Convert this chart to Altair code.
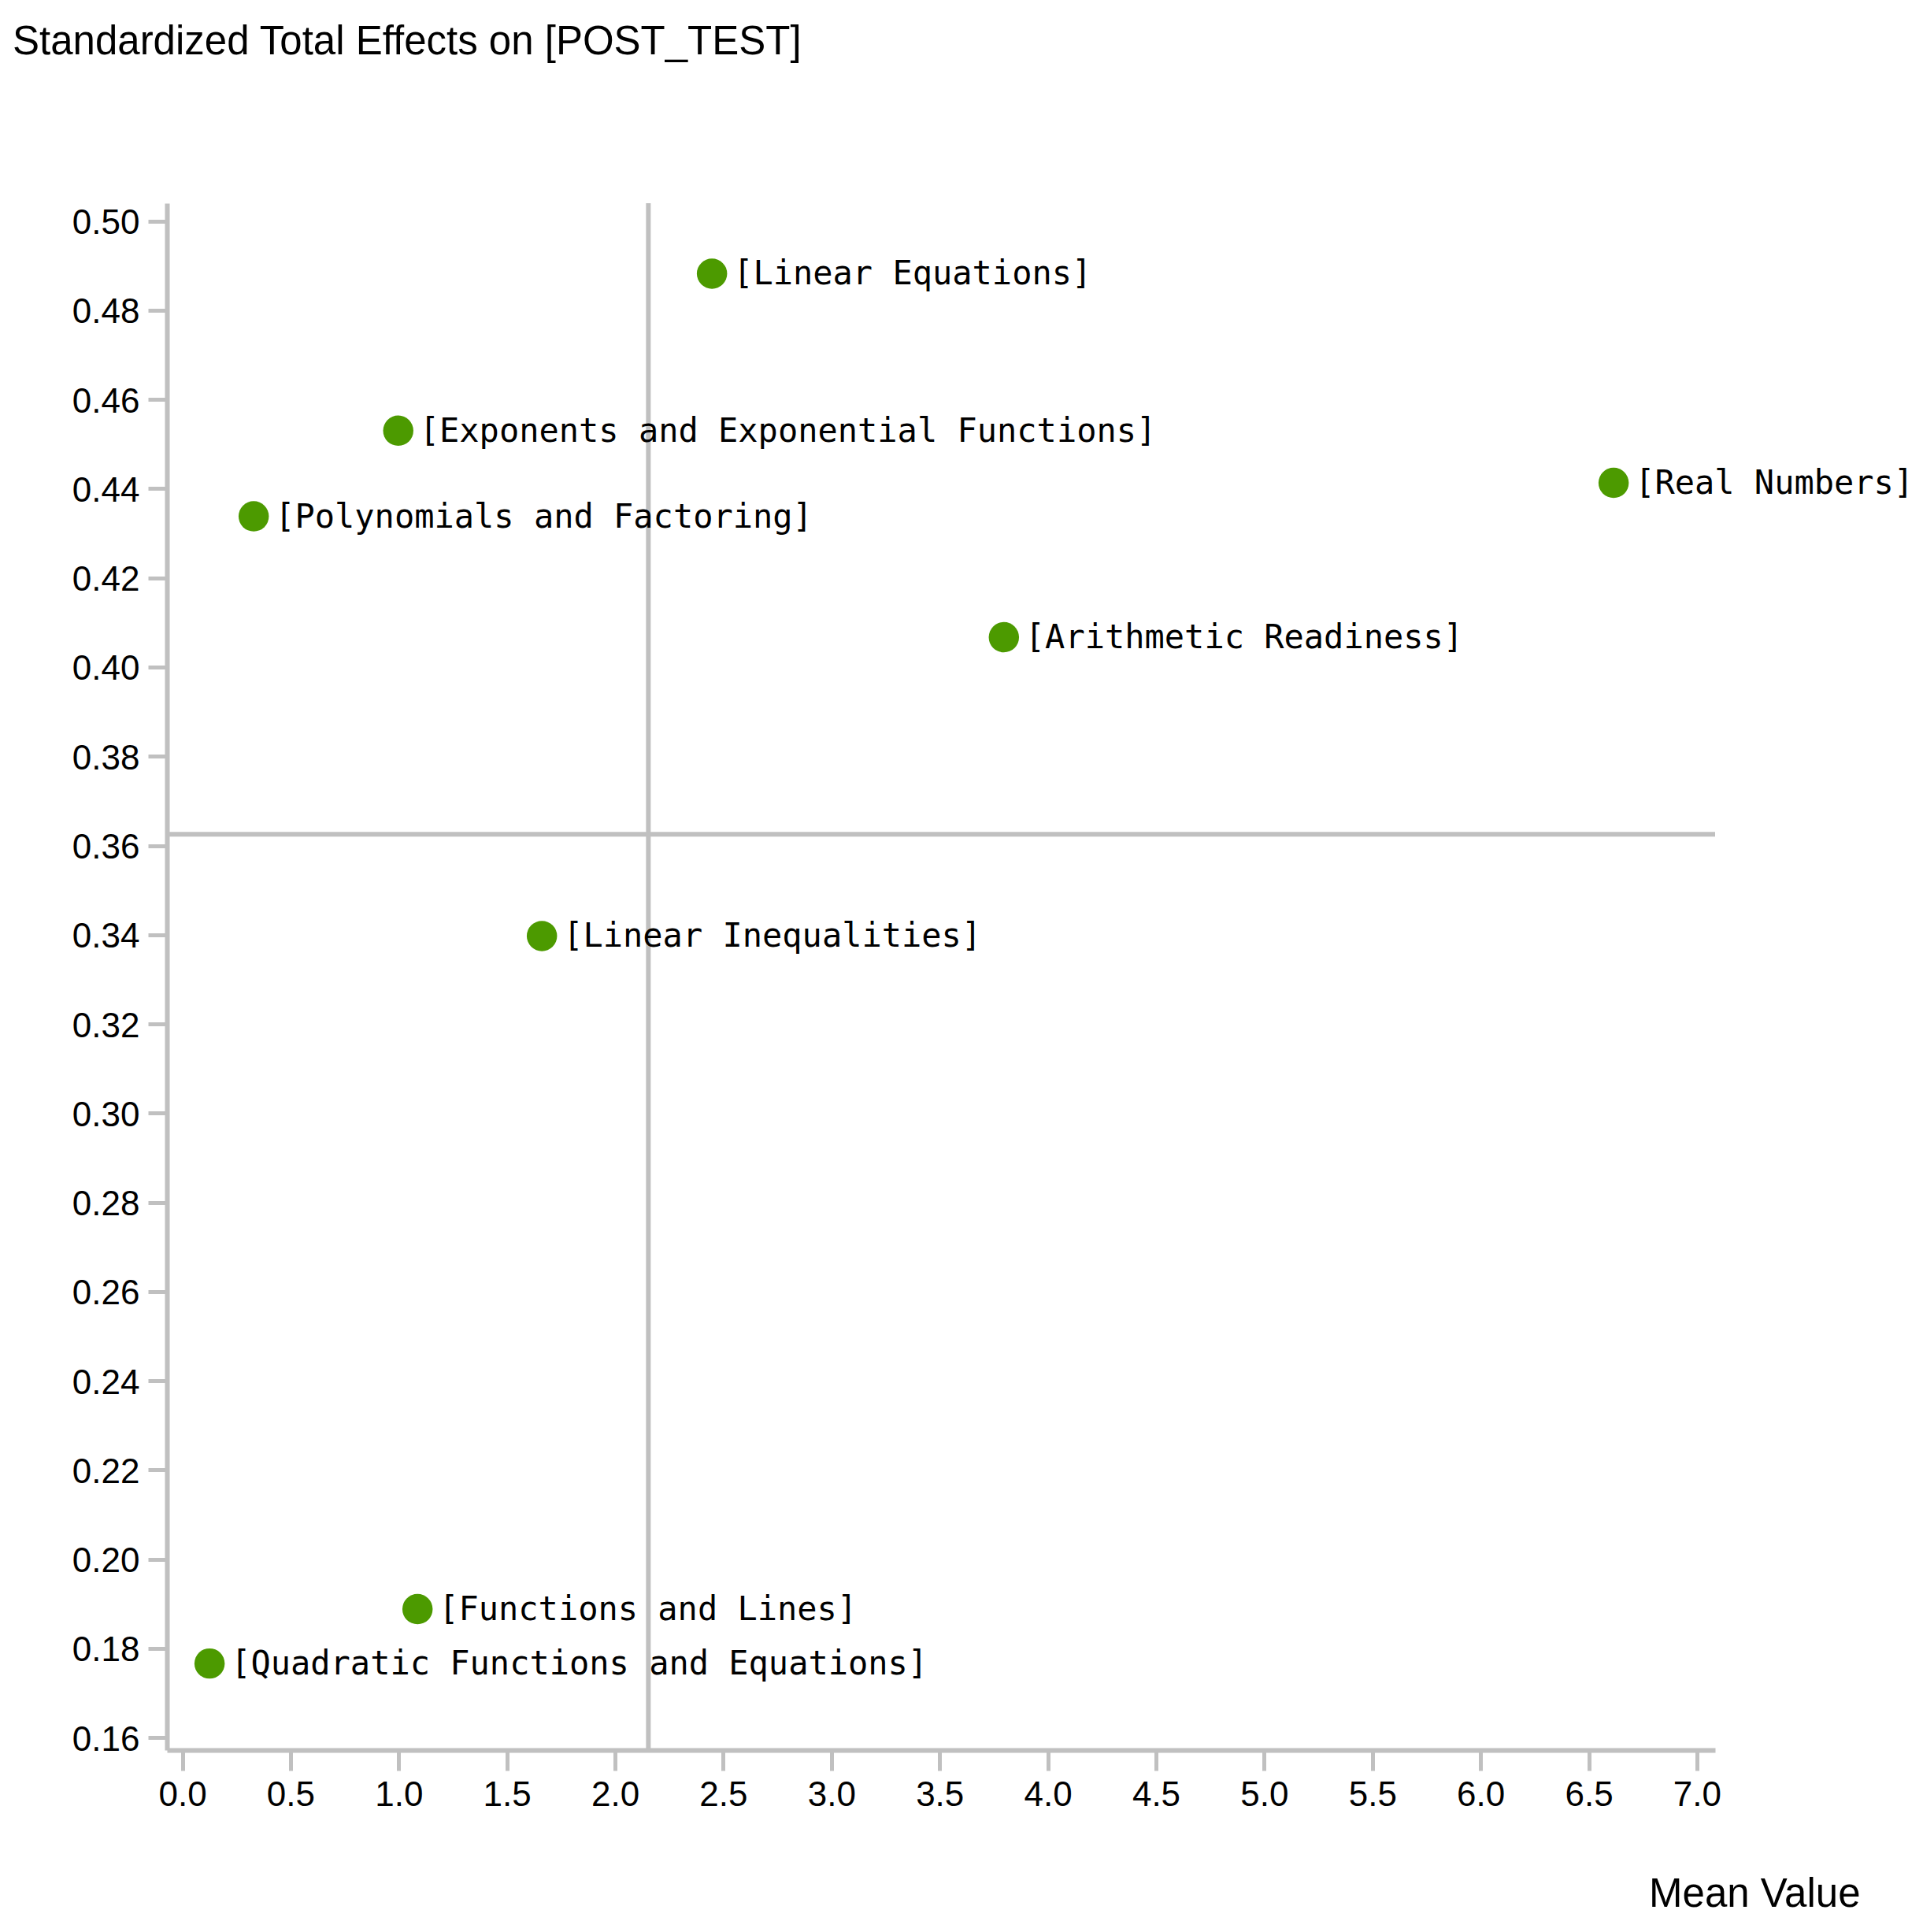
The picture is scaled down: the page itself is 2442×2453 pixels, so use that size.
import altair as alt
import pandas as pd

# Data
topics = [
    "[Linear Equations]",
    "[Exponents and Exponential Functions]",
    "[Polynomials and Factoring]",
    "[Real Numbers]",
    "[Arithmetic Readiness]",
    "[Linear Inequalities]",
    "[Functions and Lines]",
    "[Quadratic Functions and Equations]",
]
mean_value = [2.448, 0.998, 0.330, 6.615, 3.797, 1.662, 1.087, 0.126]
total_effect = [0.4882, 0.4530, 0.4338, 0.4413, 0.4067, 0.3397, 0.1888, 0.1766]

ref_x = [2.154]
ref_y = [0.3625]

y_ticks = [0.16, 0.18, 0.20, 0.22, 0.24, 0.26, 0.28, 0.30, 0.32, 0.34,
           0.36, 0.38, 0.40, 0.42, 0.44, 0.46, 0.48, 0.50]
x_ticks = [0.0, 0.5, 1.0, 1.5, 2.0, 2.5, 3.0, 3.5, 4.0, 4.5, 5.0, 5.5, 6.0, 6.5, 7.0]

df = pd.DataFrame({"topic": topics, "mean": mean_value, "effect": total_effect})
df_rx = pd.DataFrame({"rx": ref_x})
df_ry = pd.DataFrame({"ry": ref_y})

AXIS_GREY = "#c0c0c0"
SANS = "Liberation Sans"

x_scale = alt.Scale(domain=[-0.071, 7.084], nice=False, zero=False)
y_scale = alt.Scale(domain=[0.1572, 0.504], nice=False, zero=False)

x_enc = alt.X(
    "mean:Q",
    scale=x_scale,
    axis=alt.Axis(
        values=x_ticks,
        format=".1f",
        grid=False,
        domainColor=AXIS_GREY,
        domainWidth=6,
        tickColor=AXIS_GREY,
        tickWidth=5,
        tickSize=26,
        labelFont=SANS,
        labelFontSize=44,
        labelColor="#000000",
        labelPadding=9,
        labelFlush=False,
        title="Mean Value",
        titleFont=SANS,
        titleFontSize=51,
        titleFontWeight="normal",
        titleColor="#000000",
        titleAlign="right",
        titleBaseline="middle",
        titleX=2150,
        titleY=183,
    ),
)
y_enc = alt.Y(
    "effect:Q",
    scale=y_scale,
    axis=alt.Axis(
        values=y_ticks,
        format=".2f",
        grid=False,
        domainColor=AXIS_GREY,
        domainWidth=6,
        tickColor=AXIS_GREY,
        tickWidth=5,
        tickSize=24,
        labelFont=SANS,
        labelFontSize=44,
        labelColor="#000000",
        labelPadding=11,
        labelOffset=3,
        labelFlush=False,
        title="",
    ),
)

rule_v = alt.Chart(df_rx).mark_rule(color=AXIS_GREY, strokeWidth=6).encode(
    x=alt.X("rx:Q", scale=x_scale)
)
rule_h = alt.Chart(df_ry).mark_rule(color=AXIS_GREY, strokeWidth=6).encode(
    y=alt.Y("ry:Q", scale=y_scale)
)

base = alt.Chart(df)
points = base.mark_circle(color="#4c9a00", opacity=1, size=1480).encode(x=x_enc, y=y_enc)
labels = base.mark_text(
    align="left",
    baseline="middle",
    dx=27,
    dy=1,
    font="DejaVu Sans Mono",
    fontSize=42,
    color="#000000",
).encode(x="mean:Q", y="effect:Q", text="topic:N")

chart = (
    alt.layer(rule_v, rule_h, points, labels)
    .properties(
        width=1966,
        height=1964,
        autosize=alt.AutoSizeParams(type="none"),
        padding={"left": 204, "top": 250, "right": 256, "bottom": 215},
        view=alt.ViewBackground(stroke="transparent", strokeWidth=0, strokeOpacity=0),
        title=alt.TitleParams(
            text="Standardized Total Effects on [POST_TEST]",
            anchor="start",
            frame="group",
            font=SANS,
            fontSize=51,
            fontWeight="normal",
            color="#000000",
            dx=-196,
            offset=175,
        ),
    )
    .configure_view(strokeWidth=0, stroke="transparent", strokeOpacity=0)
    .configure(background="white")
)

chart.save("out.html", embed_options={"renderer": "svg", "actions": False})
